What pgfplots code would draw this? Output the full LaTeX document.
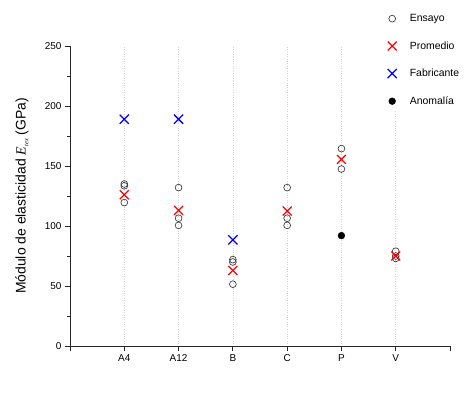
\documentclass[border=0pt]{standalone}
\usepackage{pgfplots}
\pgfplotsset{compat=1.18}
\usepackage{fontspec}
\setmainfont{Liberation Sans}
\newfontfamily\serifit{Liberation Serif}
\definecolor{circgray}{HTML}{404040}
\begin{document}
\begin{tikzpicture}[x=1bp,y=1bp]
\path[use as bounding box] (0,0) rectangle (474,395);
\begin{axis}[
  at={(70bp,49bp)}, anchor=origin,
  scale only axis, width=380bp, height=300bp,
  xmin=0, xmax=7, ymin=0, ymax=250,
  axis lines*=left,
  axis line style={line width=0.9pt, black!85},
  xtick={1,2,3,4,5,6},
  xticklabels={A4,A12,B,C,P,V},
  extra x ticks={0,7},
  extra x tick labels={},
  extra x tick style={grid=none},
  ytick={0,50,100,150,200,250},
  minor y tick num=1,
  tick align=outside,
  major tick length=5bp, minor tick length=3bp,
  tick style={line width=0.8pt, black!85},
  xmajorgrids,
  major grid style={dotted, gray!35, line width=0.5pt},
  tick label style={font=\fontsize{10}{12}\selectfont},
  /pgf/number format/assume math mode=true,
  ylabel={Módulo de elasticidad {\serifit\itshape E}\raisebox{-0.35ex}{\fontsize{6.5}{7}\selectfont\serifit\itshape tex} (GPa)},
  ylabel style={font=\fontsize{14}{16}\selectfont, at={(-48bp,150bp)}, anchor=center},
  legend style={draw=none, fill=white, at={(rel axis cs:0.83,1.123)}, anchor=north west,
    font=\fontsize{10.5}{12}\selectfont, row sep=14.5bp, column sep=11bp, inner xsep=2bp, inner ysep=3bp},
  legend cell align=left,
  legend image code/.code={\draw[#1] plot coordinates {(0.22cm,0cm)};},
  clip=false,
]
\addplot[only marks, mark=o, mark size=3.4bp, draw=circgray, line width=0.7pt, mark options={fill=none}] coordinates {
 (1,135) (1,133.5) (1,119.5)
 (2,132) (2,106.5) (2,100.5)
 (3,72) (3,70) (3,51.5)
 (4,132) (4,106.5) (4,100.5)
 (5,164.5) (5,147.5)
 (6,79) (6,75) (6,73)
};
\addlegendentry{Ensayo}
\addplot[only marks, mark=x, mark size=6.3bp, draw=red, line width=1.25pt] coordinates {
 (1,126) (2,113) (3,63) (4,112.5) (5,155.5) (6,75)
};
\addlegendentry{Promedio}
\addplot[only marks, mark=x, mark size=6.5bp, draw=blue, line width=1.25pt] coordinates {
 (1,189) (2,189) (3,88.5)
};
\addlegendentry{Fabricante}
\addplot[only marks, mark=*, mark size=3.4bp, draw=black, fill=black] coordinates {
 (5,92)
};
\addlegendentry{Anomalía}
\end{axis}
\end{tikzpicture}
\end{document}
